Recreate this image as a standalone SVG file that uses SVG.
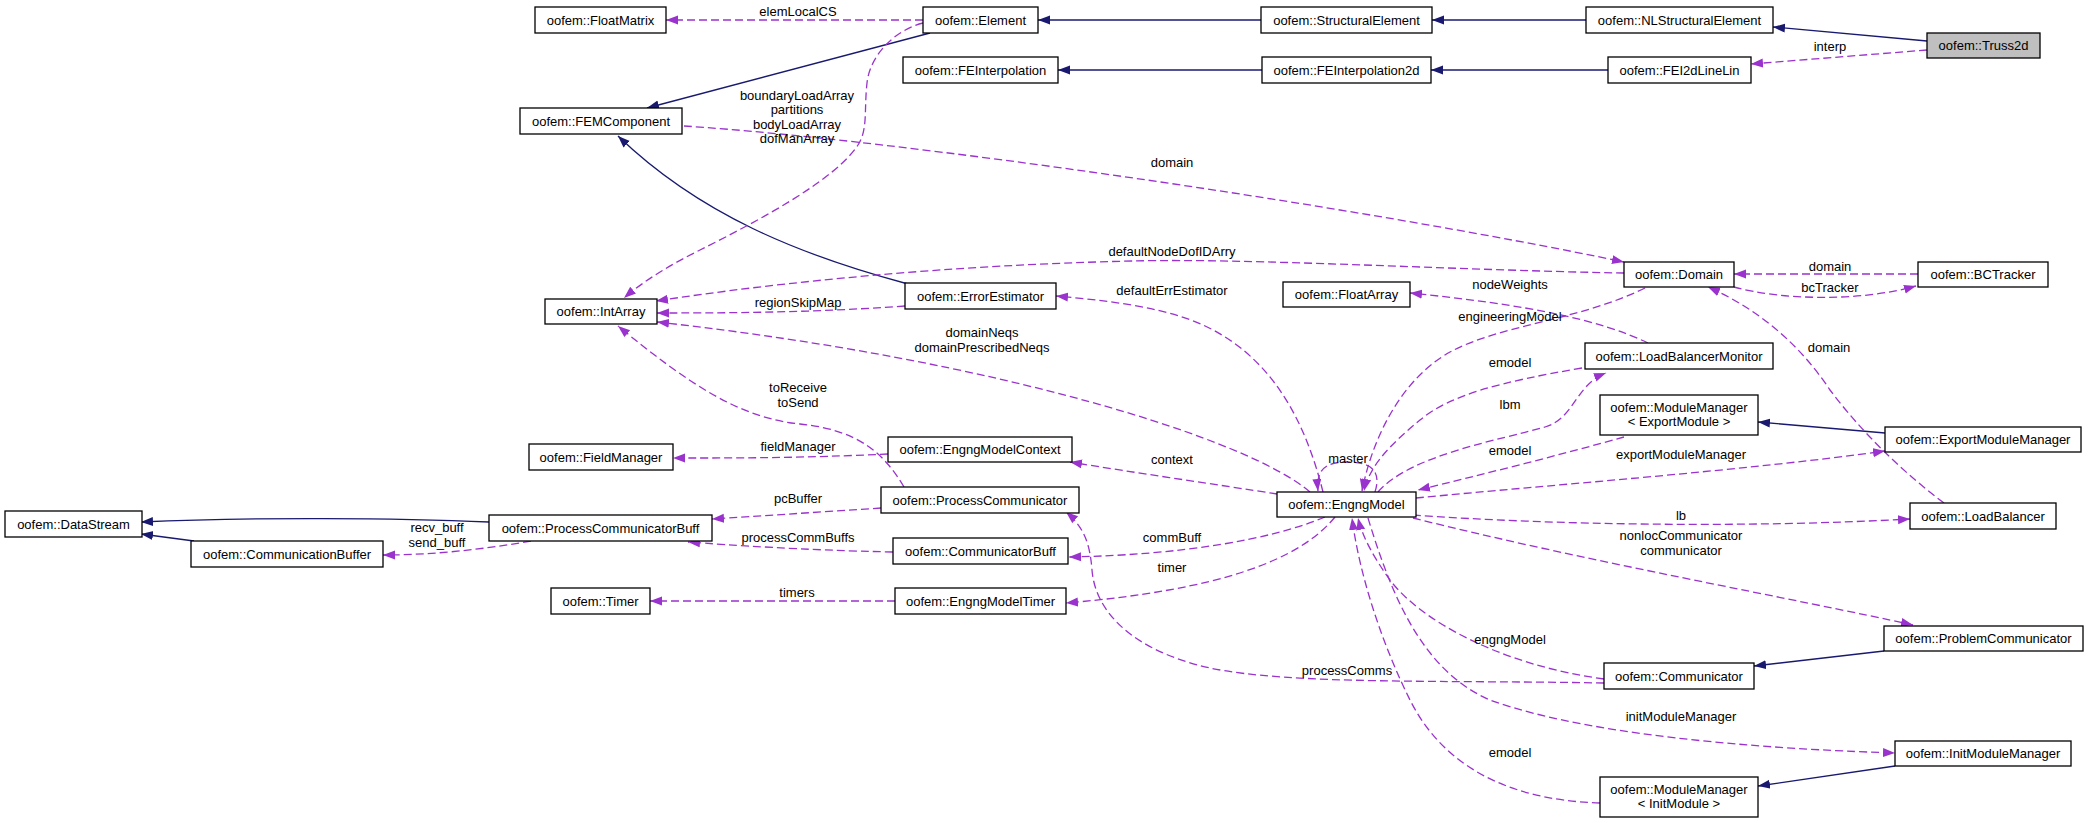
<svg xmlns="http://www.w3.org/2000/svg" width="2088" height="823" viewBox="0 0 2088 823">
<style>
.n rect{fill:#fff;stroke:#000;stroke-width:1.3}
.n text,.lb{font-family:"Liberation Sans",Arial,sans-serif;font-size:13px;fill:#000}
.n text{text-anchor:middle}
.lb{text-anchor:middle}
.inh{fill:none;stroke:#191970;stroke-width:1.3;marker-end:url(#ab)}
.use{fill:none;stroke:#9a32cd;stroke-width:1.3;stroke-dasharray:8,4;marker-end:url(#ap)}
</style>
<defs>
<marker id="ab" markerUnits="userSpaceOnUse" markerWidth="13" markerHeight="10" refX="12" refY="4.5" orient="auto"><path d="M0,0 L12,4.5 L0,9 z" fill="#191970"/></marker>
<marker id="ap" markerUnits="userSpaceOnUse" markerWidth="13" markerHeight="10" refX="12" refY="4.5" orient="auto"><path d="M0,0 L12,4.5 L0,9 z" fill="#9a32cd"/></marker>
</defs>
<rect width="2088" height="823" fill="#fff"/>
<g id="edges">
<path class="inh" d="M1261,20 L1038,20"/>
<path class="inh" d="M1586,20 L1432,20"/>
<path class="inh" d="M1927,41 L1773,27"/>
<path class="inh" d="M1262,70 L1058,70"/>
<path class="inh" d="M1608,70 L1431,70"/>
<path class="inh" d="M930,33 L647,108"/>
<path class="inh" d="M908,284 C800,255 700,215 618,136"/>
<path class="inh" d="M489,522 C400,518 250,517 141,522"/>
<path class="inh" d="M194,541 L141,534"/>
<path class="inh" d="M1884,651 L1754,666"/>
<path class="inh" d="M1885,433 L1758,422"/>
<path class="inh" d="M1895,766 L1758,786"/>

<path class="use" d="M923,20 L666,20"/>
<path class="use" d="M1927,50 L1751,64"/>
<path class="use" d="M923,23 C895,30 870,55 867,83 C864,110 868,130 858,145 C835,180 760,220 700,250 C670,265 645,280 624,298"/>
<path class="use" d="M684,126 C900,140 1350,205 1624,262"/>
<path class="use" d="M1624,273 C1450,270 1250,258 1133,261 C950,265 780,282 656,301"/>
<path class="use" d="M905,306 C820,312 750,313 657,313"/>
<path class="use" d="M1323,492 C1305,420 1270,350 1191,320 C1150,305 1100,300 1056,296"/>
<path class="use" d="M1310,492 C1250,440 1000,360 657,322"/>
<path class="use" d="M1277,494 C1220,485 1130,472 1070,462"/>
<path class="use" d="M1375,492 C1382,470 1370,462 1347,462 C1325,462 1316,470 1318,491"/>
<path class="use" d="M1645,288 C1580,320 1500,325 1450,352 C1400,380 1372,440 1362,491"/>
<path class="use" d="M1582,368 C1500,382 1450,395 1420,420 C1390,445 1370,465 1364,491"/>
<path class="use" d="M1378,492 C1410,455 1500,440 1545,427 C1575,418 1575,385 1606,373"/>
<path class="use" d="M1624,437 C1560,455 1480,475 1418,490"/>
<path class="use" d="M1416,498 C1550,485 1750,470 1885,451"/>
<path class="use" d="M1944,503 C1900,470 1860,430 1830,390 C1800,345 1760,310 1708,287"/>
<path class="use" d="M1734,287 C1780,300 1860,302 1916,286"/>
<path class="use" d="M1918,274 L1734,274"/>
<path class="use" d="M1648,343 C1600,320 1530,305 1410,293"/>
<path class="use" d="M1413,515 C1550,525 1750,528 1910,519"/>
<path class="use" d="M1413,518 C1580,560 1800,600 1913,625"/>
<path class="use" d="M1604,679 C1500,665 1420,620 1390,580 C1372,555 1362,535 1358,518"/>
<path class="use" d="M1604,683 C1450,680 1290,685 1210,668 C1130,650 1095,610 1092,570 C1090,545 1085,528 1066,512"/>
<path class="use" d="M1368,518 C1390,590 1420,670 1490,700 C1600,740 1800,750 1895,753"/>
<path class="use" d="M1600,803 C1500,800 1440,760 1410,700 C1385,650 1360,580 1352,518"/>
<path class="use" d="M1325,517 C1270,540 1180,555 1069,557"/>
<path class="use" d="M1335,517 C1300,560 1220,590 1066,603"/>
<path class="use" d="M904,487 C885,455 860,430 800,424 C740,418 690,385 618,326"/>
<path class="use" d="M888,454 C800,458 750,458 673,458"/>
<path class="use" d="M881,508 C820,512 760,516 712,519"/>
<path class="use" d="M893,552 C800,550 730,545 688,542"/>
<path class="use" d="M531,541 C480,550 430,555 383,555"/>
<path class="use" d="M895,601 L650,601"/>

<text class="lb" x="798" y="16">elemLocalCS</text>
<text class="lb" x="1830" y="51">interp</text>
<text class="lb" x="797" y="100">boundaryLoadArray</text>
<text class="lb" x="797" y="114">partitions</text>
<text class="lb" x="797" y="129">bodyLoadArray</text>
<text class="lb" x="797" y="143">dofManArray</text>
<text class="lb" x="1172" y="167">domain</text>
<text class="lb" x="1172" y="256">defaultNodeDofIDArry</text>
<text class="lb" x="798" y="307">regionSkipMap</text>
<text class="lb" x="1172" y="295">defaultErrEstimator</text>
<text class="lb" x="982" y="337">domainNeqs</text>
<text class="lb" x="982" y="352">domainPrescribedNeqs</text>
<text class="lb" x="798" y="392">toReceive</text>
<text class="lb" x="798" y="407">toSend</text>
<text class="lb" x="798" y="451">fieldManager</text>
<text class="lb" x="1172" y="464">context</text>
<text class="lb" x="1348" y="463">master</text>
<text class="lb" x="798" y="503">pcBuffer</text>
<text class="lb" x="798" y="542">processCommBuffs</text>
<text class="lb" x="1172" y="542">commBuff</text>
<text class="lb" x="437" y="532">recv_buff</text>
<text class="lb" x="437" y="547">send_buff</text>
<text class="lb" x="1172" y="572">timer</text>
<text class="lb" x="797" y="597">timers</text>
<text class="lb" x="1347" y="675">processComms</text>
<text class="lb" x="1830" y="271">domain</text>
<text class="lb" x="1830" y="292">bcTracker</text>
<text class="lb" x="1510" y="289">nodeWeights</text>
<text class="lb" x="1510" y="321">engineeringModel</text>
<text class="lb" x="1829" y="352">domain</text>
<text class="lb" x="1510" y="367">emodel</text>
<text class="lb" x="1510" y="409">lbm</text>
<text class="lb" x="1510" y="455">emodel</text>
<text class="lb" x="1681" y="459">exportModuleManager</text>
<text class="lb" x="1681" y="520">lb</text>
<text class="lb" x="1681" y="540">nonlocCommunicator</text>
<text class="lb" x="1681" y="555">communicator</text>
<text class="lb" x="1510" y="644">engngModel</text>
<text class="lb" x="1681" y="721">initModuleManager</text>
<text class="lb" x="1510" y="757">emodel</text>
</g>

<g id="FloatMatrix" class="n"><rect x="535" y="7" width="131" height="26"/><text x="600.5" y="24.5">oofem::FloatMatrix</text></g>
<g id="Element" class="n"><rect x="923" y="7" width="115" height="26"/><text x="980.5" y="24.5">oofem::Element</text></g>
<g id="StructuralElement" class="n"><rect x="1261" y="7" width="171" height="26"/><text x="1346.5" y="24.5">oofem::StructuralElement</text></g>
<g id="NLStructuralElement" class="n"><rect x="1586" y="7" width="187" height="26"/><text x="1679.5" y="24.5">oofem::NLStructuralElement</text></g>
<g id="Truss2d" class="n"><rect x="1927" y="33" width="113" height="25" style="fill:#bfbfbf"/><text x="1983.5" y="50">oofem::Truss2d</text></g>
<g id="FEInterpolation" class="n"><rect x="903" y="57" width="155" height="26"/><text x="980.5" y="74.5">oofem::FEInterpolation</text></g>
<g id="FEInterpolation2d" class="n"><rect x="1262" y="57" width="169" height="26"/><text x="1346.5" y="74.5">oofem::FEInterpolation2d</text></g>
<g id="FEI2dLineLin" class="n"><rect x="1608" y="57" width="143" height="26"/><text x="1679.5" y="74.5">oofem::FEI2dLineLin</text></g>
<g id="FEMComponent" class="n"><rect x="520" y="108" width="162" height="26"/><text x="601" y="125.5">oofem::FEMComponent</text></g>
<g id="IntArray" class="n"><rect x="545" y="299" width="112" height="25"/><text x="601" y="316">oofem::IntArray</text></g>
<g id="ErrorEstimator" class="n"><rect x="905" y="283" width="151" height="26"/><text x="980.5" y="300.5">oofem::ErrorEstimator</text></g>
<g id="FloatArray" class="n"><rect x="1283" y="282" width="127" height="25"/><text x="1346.5" y="299">oofem::FloatArray</text></g>
<g id="Domain" class="n"><rect x="1624" y="262" width="110" height="25"/><text x="1679" y="279">oofem::Domain</text></g>
<g id="BCTracker" class="n"><rect x="1918" y="262" width="130" height="25"/><text x="1983" y="279">oofem::BCTracker</text></g>
<g id="LoadBalancerMonitor" class="n"><rect x="1585" y="343" width="188" height="26"/><text x="1679" y="360.5">oofem::LoadBalancerMonitor</text></g>
<g id="ModuleManagerExport" class="n"><rect x="1600" y="395" width="158" height="40"/><text x="1679" y="411.5">oofem::ModuleManager</text><text x="1679" y="425.5">&lt; ExportModule &gt;</text></g>
<g id="ExportModuleManager" class="n"><rect x="1885" y="427" width="196" height="25"/><text x="1983" y="444">oofem::ExportModuleManager</text></g>
<g id="FieldManager" class="n"><rect x="529" y="444" width="144" height="26"/><text x="601" y="461.5">oofem::FieldManager</text></g>
<g id="EngngModelContext" class="n"><rect x="888" y="437" width="184" height="25"/><text x="980" y="454">oofem::EngngModelContext</text></g>
<g id="EngngModel" class="n"><rect x="1277" y="492" width="139" height="25"/><text x="1346.5" y="509">oofem::EngngModel</text></g>
<g id="ProcessCommunicator" class="n"><rect x="881" y="487" width="198" height="26"/><text x="980" y="504.5">oofem::ProcessCommunicator</text></g>
<g id="LoadBalancer" class="n"><rect x="1910" y="503" width="146" height="26"/><text x="1983" y="520.5">oofem::LoadBalancer</text></g>
<g id="DataStream" class="n"><rect x="5" y="511" width="137" height="26"/><text x="73.5" y="528.5">oofem::DataStream</text></g>
<g id="ProcessCommunicatorBuff" class="n"><rect x="489" y="515" width="223" height="26"/><text x="600.5" y="532.5">oofem::ProcessCommunicatorBuff</text></g>
<g id="CommunicatorBuff" class="n"><rect x="893" y="538" width="175" height="26"/><text x="980.5" y="555.5">oofem::CommunicatorBuff</text></g>
<g id="CommunicationBuffer" class="n"><rect x="191" y="541" width="192" height="26"/><text x="287" y="558.5">oofem::CommunicationBuffer</text></g>
<g id="Timer" class="n"><rect x="551" y="588" width="99" height="26"/><text x="600.5" y="605.5">oofem::Timer</text></g>
<g id="EngngModelTimer" class="n"><rect x="895" y="588" width="171" height="26"/><text x="980.5" y="605.5">oofem::EngngModelTimer</text></g>
<g id="ProblemCommunicator" class="n"><rect x="1884" y="626" width="199" height="25"/><text x="1983.5" y="643">oofem::ProblemCommunicator</text></g>
<g id="Communicator" class="n"><rect x="1604" y="663" width="150" height="26"/><text x="1679" y="680.5">oofem::Communicator</text></g>
<g id="InitModuleManager" class="n"><rect x="1895" y="741" width="176" height="25"/><text x="1983" y="758">oofem::InitModuleManager</text></g>
<g id="ModuleManagerInit" class="n"><rect x="1600" y="777" width="158" height="40"/><text x="1679" y="793.5">oofem::ModuleManager</text><text x="1679" y="807.5">&lt; InitModule &gt;</text></g>
</svg>
